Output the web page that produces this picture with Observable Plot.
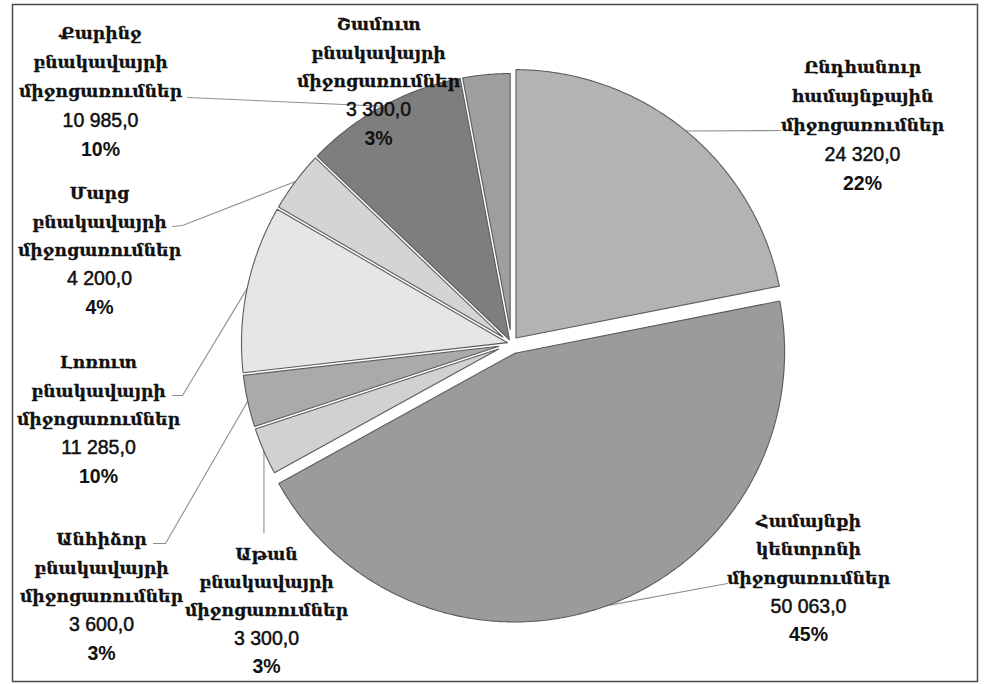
<!DOCTYPE html>
<html>
<head>
<meta charset="utf-8">
<script src="https://cdn.jsdelivr.net/npm/d3@7"></script>
<script src="https://cdn.jsdelivr.net/npm/@observablehq/plot@0.6"></script>
<style>
  html, body { margin: 0; padding: 0; background: #fff; }
  #chart svg { display: block; }
</style>
</head>
<body>
<div id="chart"></div>
<script>
// ---------- DATA ----------
const categories = [
  "Ընդհանուր համայնքային միջոցառումներ",
  "Համայնքի կենտրոնի միջոցառումներ",
  "Աթան բնակավայրի միջոցառումներ",
  "Անհիձոր բնակավայրի միջոցառումներ",
  "Լոռուտ բնակավայրի միջոցառումներ",
  "Մարց բնակավայրի միջոցառումներ",
  "Քարինջ բնակավայրի միջոցառումներ",
  "Շամուտ բնակավայրի միջոցառումներ"
];
const values = [24320, 50063, 3300, 3600, 11285, 4200, 10985, 3300];
const colors = ["#b3b3b3", "#9b9b9b", "#d1d1d1", "#aaaaaa", "#e6e6e6", "#d4d4d4", "#7e7e7e", "#9e9e9e"];

// ---------- LAYOUT (pixels) ----------
const W = 987, H = 684;
const frame = {left: 12, top: 4, right: 977, bottom: 681};
const pie = {cx: 511, cy: 343, r: 270, gap: 1.3};
const explode = [5, 9, 0, 0, 0, 0, 0, 0];
const labelLayout = [
  {x: 862, y0: 67,  step: 29,   leader: [[780, 130]]},
  {x: 808, y0: 521, step: 28.3, leader: [[727, 583]]},
  {x: 266, y0: 554, step: 28,   leader: "vertical", top: 532},
  {x: 101, y0: 539, step: 28.5, leader: [[153, 543], [165, 543]]},
  {x: 98,  y0: 362, step: 28.5, leader: [[172, 395], [182, 395]]},
  {x: 99,  y0: 193, step: 28.5, leader: [[172, 226], [182, 225]]},
  {x: 100, y0: 33,  step: 29,   leader: [[187, 97]]},
  {x: 378, y0: 24,  step: 28.5, leader: null}
];

// ---------- DERIVED ----------
const total = d3.sum(values);
const fmt = d3.formatLocale({decimal: ",", thousands: " ", grouping: [3], currency: ["", ""]}).format(",.1f");
const arcs = d3.pie().sort(null).value(d => d)(values);

// data coords: pixel offsets from pie centre, y up
const toX = px => px - pie.cx;
const toY = py => pie.cy - py;

const slicePts = [];
arcs.forEach((a, i) => {
  const mid = (a.startAngle + a.endAngle) / 2;
  const ex = explode[i] * Math.sin(mid), ey = explode[i] * Math.cos(mid);
  const h = pie.gap;
  const half = (a.endAngle - a.startAngle) / 2;
  const r0 = h / Math.sin(half);
  const apex = {x: r0 * Math.sin(mid) + ex, y: r0 * Math.cos(mid) + ey, i, color: colors[i]};
  slicePts.push(apex);
  const s = a.startAngle + Math.asin(h / pie.r), e = a.endAngle - Math.asin(h / pie.r);
  const n = Math.max(2, Math.ceil((e - s) / (Math.PI / 360)));
  for (let k = 0; k <= n; k++) {
    const t = s + (e - s) * k / n;
    slicePts.push({x: pie.r * Math.sin(t) + ex, y: pie.r * Math.cos(t) + ey, i, color: colors[i]});
  }
  slicePts.push({...apex});
});

// leader lines
const leaderPts = [];
arcs.forEach((a, i) => {
  const L = labelLayout[i];
  if (!L.leader) return;
  const mid = (a.startAngle + a.endAngle) / 2;
  const rr = pie.r + explode[i];
  const ax = rr * Math.sin(mid), ay = rr * Math.cos(mid);
  if (L.leader === "vertical") {
    leaderPts.push({x: ax, y: toY(L.top), i});
  } else {
    L.leader.forEach(([px, py]) => leaderPts.push({x: toX(px), y: toY(py), i}));
  }
  leaderPts.push({x: ax, y: ay, i});
});

// label lines
const textLines = [];
categories.forEach((c, i) => {
  const L = labelLayout[i];
  const words = c.split(" ");
  const lines = [
    ...words.map(w => ({text: w, kind: "name"})),
    {text: fmt(values[i]), kind: "value"},
    {text: Math.round(values[i] / total * 100) + "%", kind: "pct"}
  ];
  lines.forEach((l, k) => textLines.push({...l, x: toX(L.x), y: toY(L.y0 + k * L.step)}));
});

const chart = Plot.plot({
  width: W,
  height: H,
  marginLeft: frame.left,
  marginTop: frame.top,
  marginRight: W - frame.right,
  marginBottom: H - frame.bottom,
  x: {domain: [toX(frame.left), toX(frame.right)], axis: null},
  y: {domain: [toY(frame.bottom), toY(frame.top)], axis: null},
  color: {type: "identity"},
  style: {background: "#fff"},
  marks: [
    Plot.line(leaderPts, {x: "x", y: "y", z: "i", stroke: "#8f8f8f", strokeWidth: 1.1, curve: "linear"}),
    Plot.line(slicePts, {x: "x", y: "y", z: "i", fill: "color", stroke: "#5c5c5c", strokeWidth: 1.1, strokeLinejoin: "round", curve: "linear"}),
    Plot.text(textLines.filter(d => d.kind === "name"), {x: "x", y: "y", text: "text", fontSize: 17.2, fontWeight: "bold", fontFamily: "DejaVu Serif, DejaVu Sans", fill: "#111", stroke: "#111", strokeWidth: 0.3}),
    Plot.text(textLines.filter(d => d.kind === "value"), {x: "x", y: "y", text: "text", fontSize: 19.5, fontFamily: "Liberation Sans", fill: "#111", stroke: "#111", strokeWidth: 0.5}),
    Plot.text(textLines.filter(d => d.kind === "pct"), {x: "x", y: "y", text: "text", fontSize: 19.5, fontWeight: "bold", fontFamily: "Liberation Sans", fill: "#111"}),
    Plot.frame({stroke: "#4a4a4a", strokeWidth: 1.5})
  ]
});
document.getElementById("chart").appendChild(chart);
</script>
</body>
</html>
